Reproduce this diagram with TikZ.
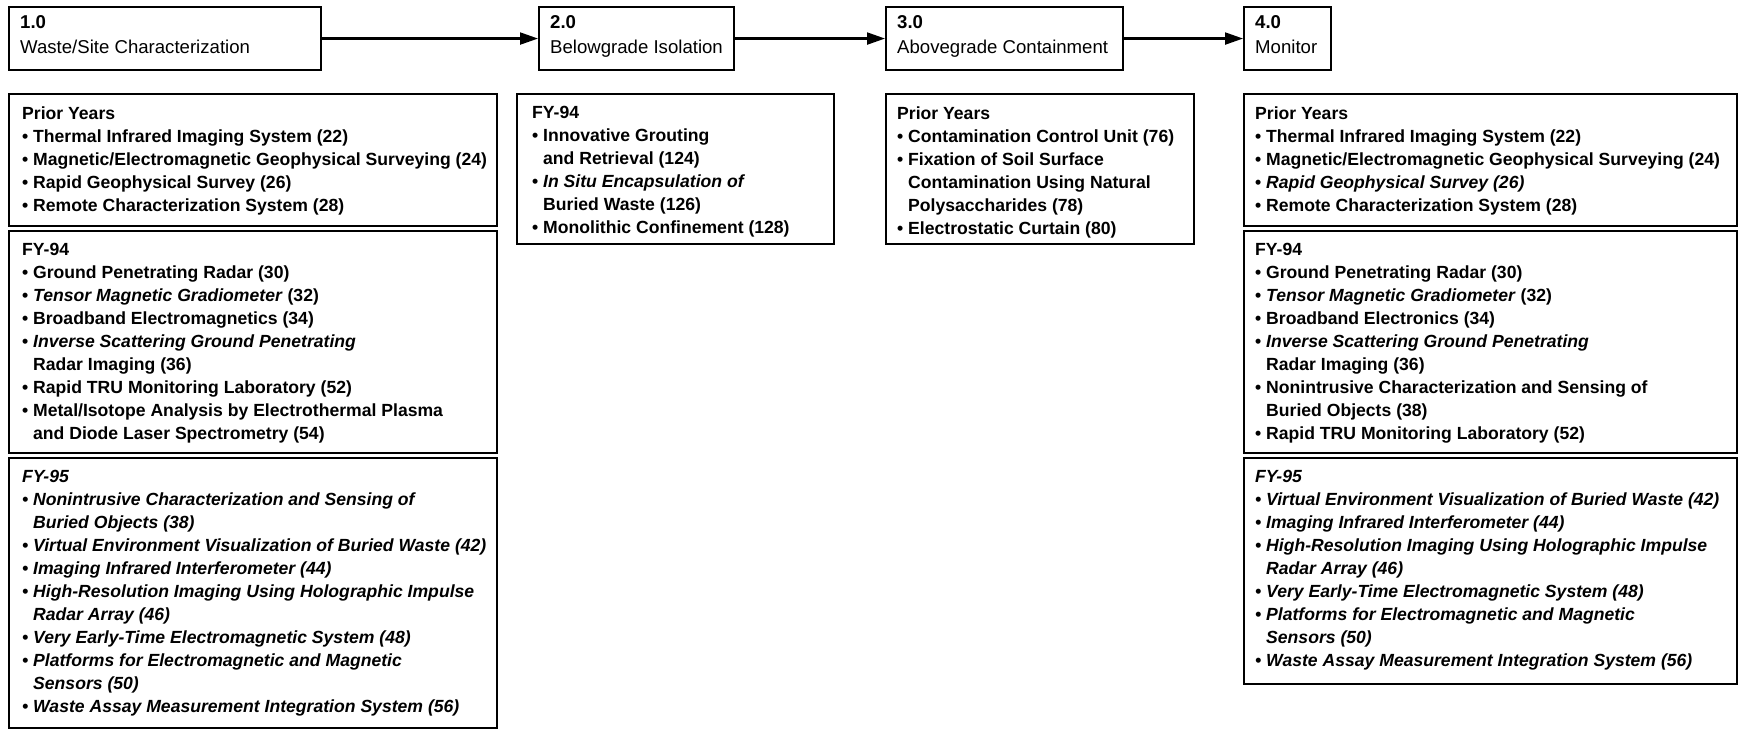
\documentclass[tikz,border=0pt]{standalone}
\usepackage{fontspec}
\setmainfont{Liberation Sans}
\usetikzlibrary{arrows.meta}
\newcommand{\bl}{\makebox[11pt][l]{•}}
\newcommand{\ind}{\hspace*{11pt}}
\tikzset{
  box/.style={draw, line width=2.1pt, inner sep=0pt, anchor=north west},
  ttl/.style={font=\fontsize{18.6}{25}\selectfont, align=left, inner sep=0pt, anchor=north west},
  lst/.style={font=\fontsize{17.6}{23}\selectfont\bfseries, align=left, inner sep=0pt, anchor=north west},
  lsti/.style={lst, font=\fontsize{17.6}{23}\selectfont\bfseries\itshape},
  flow/.style={line width=2.1pt, -{Triangle[length=18pt,width=12pt]}},
}
\begin{document}
\begin{tikzpicture}[x=1pt,y=-1pt]
\useasboundingbox (0,0) rectangle (1738,730);
% top process boxes
\node[box, minimum width=312pt, minimum height=63pt] (t1) at (8,6) {};
\node[box, minimum width=195pt, minimum height=63pt] (t2) at (538,6) {};
\node[box, minimum width=237pt, minimum height=63pt] (t3) at (885,6) {};
\node[box, minimum width=87pt, minimum height=63pt] (t4) at (1243,6) {};
\node[ttl] (t1x) at ([xshift=12pt,yshift=-9.4pt]t1.north west) {\textbf{1.0}\\Waste/Site Characterization};
\node[ttl] (t2x) at ([xshift=12pt,yshift=-9.4pt]t2.north west) {\textbf{2.0}\\Belowgrade Isolation};
\node[ttl] (t3x) at ([xshift=12pt,yshift=-9.4pt]t3.north west) {\textbf{3.0}\\Abovegrade Containment};
\node[ttl] (t4x) at ([xshift=12pt,yshift=-9.4pt]t4.north west) {\textbf{4.0}\\Monitor};
\draw[flow] (t1.east) -- (t2.west);
\draw[flow] (t2.east) -- (t3.west);
\draw[flow] (t3.east) -- (t4.west);
% column 1
\node[box, minimum width=488pt, minimum height=132pt] (p1) at (8,93) {};
\node[box, minimum width=488pt, minimum height=222pt] (p2) at (8,230) {};
\node[box, minimum width=488pt, minimum height=270pt] (p3) at (8,457) {};
\node[lst] (p1x) at ([xshift=14pt,yshift=-13.3pt]p1.north west) {Prior Years\\
\bl Thermal Infrared Imaging System (22)\\
\bl Magnetic/Electromagnetic Geophysical Surveying (24)\\
\bl Rapid Geophysical Survey (26)\\
\bl Remote Characterization System (28)};
\node[lst] (p2x) at ([xshift=14pt,yshift=-13.3pt]p2.north west) {FY-94\\
\bl Ground Penetrating Radar (30)\\
\bl \textit{Tensor Magnetic Gradiometer} (32)\\
\bl Broadband Electromagnetics (34)\\
\bl \textit{Inverse Scattering Ground Penetrating}\\
\ind Radar Imaging (36)\\
\bl Rapid TRU Monitoring Laboratory (52)\\
\bl Metal/Isotope Analysis by Electrothermal Plasma\\
\ind and Diode Laser Spectrometry (54)};
\node[lsti] (p3x) at ([xshift=14pt,yshift=-13.3pt]p3.north west) {FY-95\\
\bl Nonintrusive Characterization and Sensing of\\
\ind Buried Objects (38)\\
\bl Virtual Environment Visualization of Buried Waste (42)\\
\bl Imaging Infrared Interferometer (44)\\
\bl High-Resolution Imaging Using Holographic Impulse\\
\ind Radar Array (46)\\
\bl Very Early-Time Electromagnetic System (48)\\
\bl Platforms for Electromagnetic and Magnetic\\
\ind Sensors (50)\\
\bl Waste Assay Measurement Integration System (56)};
% column 2
\node[box, minimum width=317pt, minimum height=150pt] (q1) at (516,93) {};
\node[lst] (q1x) at ([xshift=16pt,yshift=-13.3pt]q1.north west) {FY-94\\
\bl Innovative Grouting\\
\ind and Retrieval (124)\\
\bl \textit{In Situ Encapsulation of}\\
\ind Buried Waste (126)\\
\bl Monolithic Confinement (128)};
% column 3
\node[box, minimum width=308pt, minimum height=150pt] (r1) at (885,93) {};
\node[lst] (r1x) at ([xshift=12pt,yshift=-13.3pt]r1.north west) {Prior Years\\
\bl Contamination Control Unit (76)\\
\bl Fixation of Soil Surface\\
\ind Contamination Using Natural\\
\ind Polysaccharides (78)\\
\bl Electrostatic Curtain (80)};
% column 4
\node[box, minimum width=493pt, minimum height=132pt] (s1) at (1243,93) {};
\node[box, minimum width=493pt, minimum height=222pt] (s2) at (1243,230) {};
\node[box, minimum width=493pt, minimum height=226pt] (s3) at (1243,457) {};
\node[lst] (s1x) at ([xshift=12pt,yshift=-13.3pt]s1.north west) {Prior Years\\
\bl Thermal Infrared Imaging System (22)\\
\bl Magnetic/Electromagnetic Geophysical Surveying (24)\\
\bl \textit{Rapid Geophysical Survey (26)}\\
\bl Remote Characterization System (28)};
\node[lst] (s2x) at ([xshift=12pt,yshift=-13.3pt]s2.north west) {FY-94\\
\bl Ground Penetrating Radar (30)\\
\bl \textit{Tensor Magnetic Gradiometer} (32)\\
\bl Broadband Electronics (34)\\
\bl \textit{Inverse Scattering Ground Penetrating}\\
\ind Radar Imaging (36)\\
\bl Nonintrusive Characterization and Sensing of\\
\ind Buried Objects (38)\\
\bl Rapid TRU Monitoring Laboratory (52)};
\node[lsti] (s3x) at ([xshift=12pt,yshift=-13.3pt]s3.north west) {FY-95\\
\bl Virtual Environment Visualization of Buried Waste (42)\\
\bl Imaging Infrared Interferometer (44)\\
\bl High-Resolution Imaging Using Holographic Impulse\\
\ind Radar Array (46)\\
\bl Very Early-Time Electromagnetic System (48)\\
\bl Platforms for Electromagnetic and Magnetic\\
\ind Sensors (50)\\
\bl Waste Assay Measurement Integration System (56)};
\end{tikzpicture}
\end{document}
